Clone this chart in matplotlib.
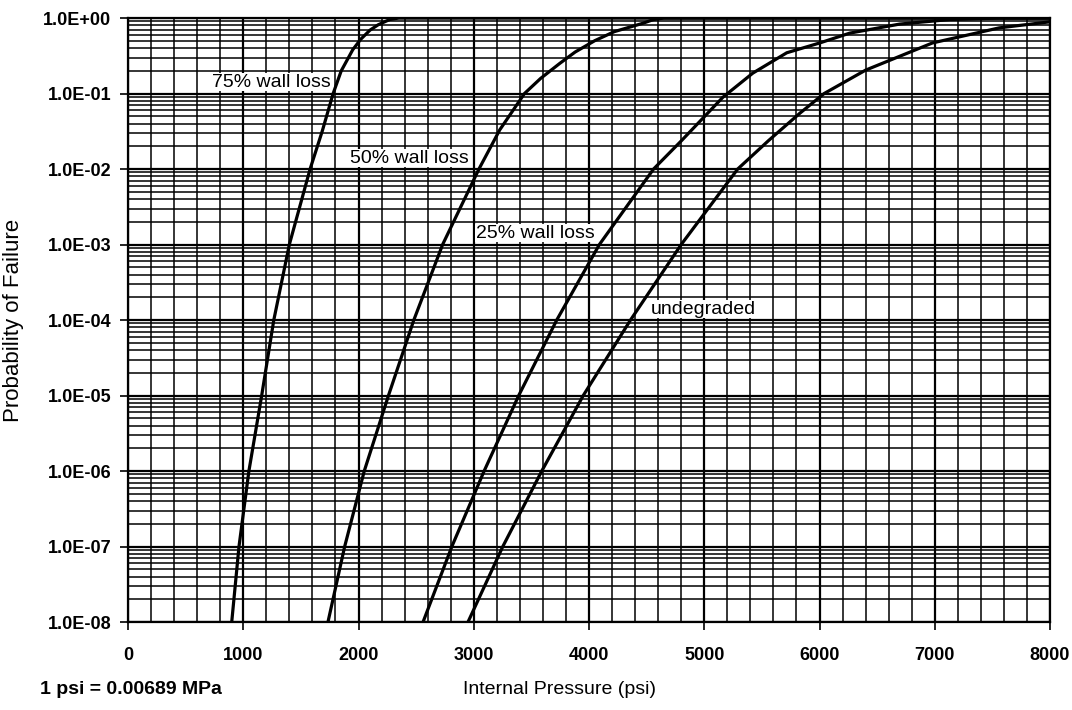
import numpy as np
import matplotlib
matplotlib.use("Agg")
import matplotlib.pyplot as plt
from matplotlib.ticker import MultipleLocator, LogLocator, FuncFormatter, NullFormatter

plt.rcParams['font.family'] = ['Liberation Sans', 'DejaVu Sans']

# curves: internal pressure (psi) vs log10(probability of failure)
psi_75 = [900, 963, 1049, 1160, 1265, 1400, 1580, 1685, 1780, 1850, 1950, 2020,
          2100, 2170, 2270, 2350, 8000]
logp_75 = [-8, -7, -6, -5, -4, -3, -2, -1.5, -1, -0.7, -0.42, -0.28,
           -0.16, -0.09, -0.02, 0, 0]

psi_50 = [1735, 1880, 2050, 2260, 2480, 2730, 3045, 3226, 3440, 3580, 3747, 3880,
          4050, 4220, 4466, 4560, 4650, 8000]
logp_50 = [-8, -7, -6, -5, -4, -3, -2, -1.48, -1, -0.8, -0.6, -0.45,
           -0.3, -0.18, -0.07, -0.02, 0, 0]

psi_25 = [2560, 2810, 3090, 3390, 3720, 4090, 4560, 4805, 5161, 5421, 5716, 6002,
          6262, 6696, 7129, 7563, 8000]
logp_25 = [-8, -7, -6, -5, -4, -3, -2, -1.62, -1.05, -0.73, -0.46, -0.33,
           -0.2, -0.08, -0.02, 0, 0]

psi_und = [2950, 3252, 3590, 3950, 4360, 4800, 5290, 5560, 5830, 6040, 6400, 6980,
           7560, 8000]
logp_und = [-8, -7, -6, -5, -4, -3, -2, -1.62, -1.26, -1, -0.69, -0.33,
            -0.13, -0.05]

curves = [(psi_75, logp_75), (psi_50, logp_50), (psi_25, logp_25), (psi_und, logp_und)]

# curve labels and where they sit (psi, probability)
label_text = ["75% wall loss", "50% wall loss", "25% wall loss", "undegraded"]
label_x = [729, 1926, 3020, 4538]
label_y = [10**-0.848, 10**-1.854, 10**-2.848, 10**-3.854]

fig = plt.figure(figsize=(10.72, 7.10), dpi=100)
ax = fig.add_axes([0.1194, 0.1239, 0.8601, 0.8507])

for xx, lp in curves:
    ax.plot(xx, 10**np.array(lp), color="black", lw=2.3, zorder=3)

ax.set_yscale("log")
ax.set_xlim(0, 8000)
ax.set_ylim(1e-8, 1)

ax.xaxis.set_major_locator(MultipleLocator(1000))
ax.xaxis.set_minor_locator(MultipleLocator(200))
ax.yaxis.set_major_locator(LogLocator(base=10, numticks=20))
ax.yaxis.set_minor_locator(LogLocator(base=10, subs=np.arange(2, 10), numticks=20))
ax.yaxis.set_major_formatter(FuncFormatter(lambda v, pos: format(v, '.1E')))
ax.yaxis.set_minor_formatter(NullFormatter())

ax.grid(which="major", color="black", lw=1.6, zorder=1)
ax.grid(which="minor", color="black", lw=1.1, zorder=1)
ax.set_axisbelow(True)

ax.tick_params(axis="both", which="major", direction="out", length=6, width=1.2,
               labelsize=13, pad=12)
ax.tick_params(axis="both", which="minor", length=0)
for lab in ax.get_xticklabels() + ax.get_yticklabels():
    lab.set_fontweight("bold")
ax.tick_params(axis="y", pad=6)

for sp in ax.spines.values():
    sp.set_color("black")
    sp.set_linewidth(1.6)

for t, xx, yy in zip(label_text, label_x, label_y):
    ax.text(xx, yy, t, fontsize=14, va="center", ha="left", zorder=4,
            bbox=dict(facecolor="white", edgecolor="none", pad=0.5))

fig.text(14 / 1072, 1 - 320 / 710, "Probability of Failure", rotation=90,
         fontsize=16, va="center", ha="center")
fig.text(463 / 1072, 1 - 690 / 710, "Internal Pressure (psi)", fontsize=14,
         va="center", ha="left")
fig.text(40 / 1072, 1 - 690 / 710, "1 psi = 0.00689 MPa", fontsize=14,
         fontweight="bold", va="center", ha="left")

fig.savefig("out.png", dpi=100, facecolor="white")
